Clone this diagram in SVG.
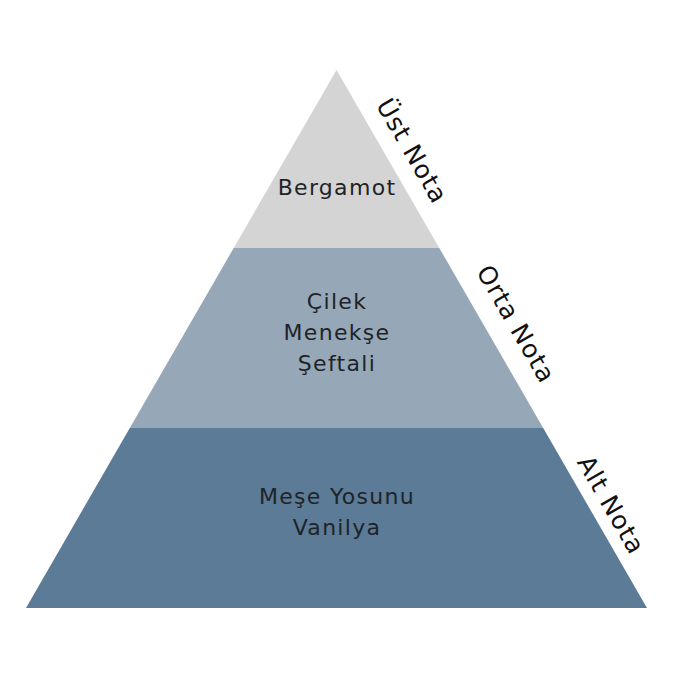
<svg xmlns="http://www.w3.org/2000/svg" width="700" height="700" viewBox="0 0 700 700">
<style>
.t{font-family:"DejaVu Sans","Noto Sans",sans-serif;font-size:22px;letter-spacing:1.3px;fill:#1f2328;text-anchor:middle}
.l{font-family:"DejaVu Sans","Noto Sans",sans-serif;font-size:25px;letter-spacing:1px;fill:#111;text-anchor:middle;dominant-baseline:central}
</style>
<rect width="700" height="700" fill="#fff"/>
<g id="top">
<polygon points="336.5,70 439.3,248 233.7,248" fill="#d4d4d4"/>
<text class="t" x="337" y="195">Bergamot</text>
</g>
<g id="middle">
<polygon points="233.7,248 439.3,248 543.2,428 129.8,428" fill="#96a8b8"/>
<text class="t" x="337" y="309">Çilek</text>
<text class="t" x="337" y="340">Menekşe</text>
<text class="t" x="337" y="371">Şeftali</text>
</g>
<g id="bottom">
<polygon points="129.8,428 543.2,428 647,608 26,608" fill="#5b7b97"/>
<text class="t" x="337" y="504">Meşe Yosunu</text>
<text class="t" x="337" y="535">Vanilya</text>
</g>
<g id="labels">
<text class="l" transform="translate(412,151) rotate(60)">Üst Nota</text>
<text class="l" transform="translate(516,324) rotate(60)">Orta Nota</text>
<text class="l" transform="translate(611,505) rotate(60)">Alt Nota</text>
</g>
</svg>
